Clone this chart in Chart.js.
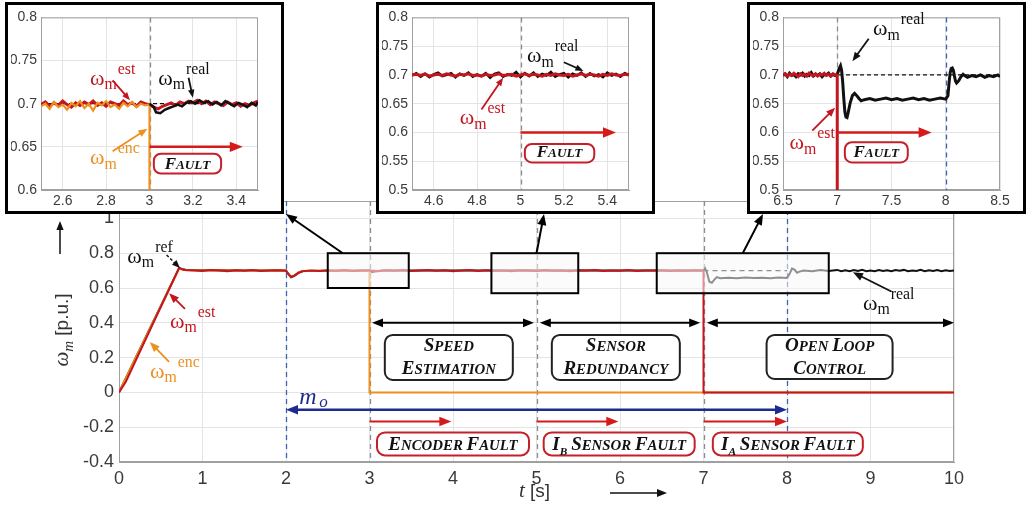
<!DOCTYPE html>
<html>
<head>
<meta charset="utf-8">
<script src="https://cdn.jsdelivr.net/npm/chart.js@4.4.1/dist/chart.umd.min.js"></script>
<style>
  body { margin: 0; background: #fff; }
  #wrap { position: relative; width: 1028px; height: 511px; overflow: hidden; background: #fff; }
  #main { position: absolute; left: 0; top: 0; }
  .inset { position: absolute; top: 2px; width: 279px; height: 212px; box-sizing: border-box; border: 3px solid #000; background: #fff; }
  .inset canvas { display: block; }
</style>
</head>
<body>
<div id="wrap">
  <canvas id="main" width="1028" height="511"></canvas>
  <div class="inset" style="left:5px"><canvas id="in1" width="273" height="206"></canvas></div>
  <div class="inset" style="left:376px"><canvas id="in2" width="273" height="206"></canvas></div>
  <div class="inset" style="left:747px"><canvas id="in3" width="273" height="206"></canvas></div>
</div>
<script>
// ---- main plot: ticks and series ([t, w] pairs) ----
const xTicksMain = [0, 1, 2, 3, 4, 5, 6, 7, 8, 9, 10];
const yTicksMain = [-0.4, -0.2, 0, 0.2, 0.4, 0.6, 0.8, 1];

const mainEst = [[0,0],[0.04,0.03],[0.08,0.06],[0.72,0.716],[0.76,0.706],[0.8,0.703],[0.9,0.701],[1,0.698],[1.1,0.703],[1.2,0.7],[1.3,0.697],[1.4,0.702],[1.5,0.699],[1.6,0.703],[1.7,0.698],[1.8,0.701],[1.9,0.702],[2,0.699],[2.03,0.68],[2.06,0.664],[2.1,0.671],[2.15,0.688],[2.2,0.696],[2.3,0.701],[2.4,0.698],[2.5,0.702],[2.6,0.699],[2.7,0.703],[2.8,0.698],[2.9,0.701],[3,0.7],[3.1,0.697],[3.2,0.702],[3.3,0.699],[3.4,0.703],[3.5,0.698],[3.6,0.701],[3.7,0.704],[3.8,0.699],[3.9,0.702],[4,0.697],[4.1,0.701],[4.2,0.703],[4.3,0.698],[4.4,0.702],[4.5,0.699],[4.6,0.701],[4.7,0.697],[4.8,0.702],[4.9,0.7],[5,0.698],[5.1,0.703],[5.2,0.699],[5.3,0.701],[5.4,0.697],[5.5,0.702],[5.6,0.7],[5.7,0.703],[5.8,0.698],[5.9,0.701],[6,0.699],[6.1,0.703],[6.2,0.698],[6.3,0.701],[6.4,0.7],[6.5,0.702],[6.6,0.698],[6.7,0.701],[6.8,0.699],[6.9,0.702],[7,0.7],[7,0],[10,0]];

const mainReal = [[0,0],[0.72,0.714],[0.8,0.703],[1.5,0.7],[2,0.7],[2.03,0.679],[2.06,0.662],[2.1,0.67],[2.15,0.687],[2.2,0.697],[3,0.7],[3.03,0.692],[3.08,0.696],[3.15,0.7],[5,0.7],[7,0.7],[7.02,0.712],[7.04,0.69],[7.07,0.636],[7.1,0.63],[7.13,0.648],[7.16,0.663],[7.2,0.656],[7.3,0.659],[7.4,0.656],[7.5,0.66],[7.6,0.657],[7.7,0.659],[7.8,0.656],[7.9,0.66],[8,0.658],[8.03,0.68],[8.06,0.712],[8.09,0.706],[8.12,0.688],[8.15,0.694],[8.2,0.701],[8.3,0.697],[8.4,0.703],[8.5,0.698],[8.6,0.704],[8.65,0.696],[8.7,0.702],[8.75,0.697],[8.8,0.703],[8.85,0.698],[8.9,0.704],[8.95,0.696],[9,0.701],[9.05,0.697],[9.1,0.703],[9.15,0.698],[9.2,0.702],[9.25,0.696],[9.3,0.703],[9.35,0.699],[9.4,0.704],[9.45,0.697],[9.5,0.701],[9.55,0.698],[9.6,0.704],[9.65,0.697],[9.7,0.702],[9.75,0.698],[9.8,0.703],[9.85,0.697],[9.9,0.702],[9.95,0.698],[10,0.701]];

const mainEnc = [[0,0],[0.72,0.712],[0.8,0.702],[1.5,0.699],[2,0.7],[2.03,0.68],[2.06,0.665],[2.1,0.672],[2.15,0.689],[2.2,0.697],[2.6,0.7],[3,0.699],[3,0],[10,0]];

const mainRef = [[7,0.7],[8,0.7]];

// ---- inset 1 (encoder fault, t = 2.5..3.5) ----
const in1XTicks = [2.6, 2.8, 3, 3.2, 3.4];
const in1YTicks = [0.6, 0.65, 0.7, 0.75, 0.8];
const in1Est = [[2.5,.699],[2.52,.702],[2.54,.697],[2.56,.701],[2.58,.698],[2.6,.703],[2.62,.699],[2.64,.696],[2.66,.701],[2.68,.698],[2.7,.702],[2.72,.699],[2.74,.703],[2.76,.698],[2.78,.701],[2.8,.697],[2.82,.702],[2.84,.7],[2.86,.698],[2.88,.703],[2.9,.699],[2.92,.701],[2.94,.697],[2.96,.702],[2.98,.7],[3,.699],[3.02,.696],[3.04,.694],[3.06,.697],[3.08,.699],[3.1,.701],[3.12,.698],[3.14,.702],[3.16,.7],[3.18,.703],[3.2,.701],[3.22,.704],[3.24,.7],[3.26,.703],[3.28,.699],[3.3,.702],[3.32,.7],[3.34,.698],[3.36,.702],[3.38,.699],[3.4,.701],[3.42,.697],[3.44,.7],[3.46,.698],[3.48,.701],[3.5,.703]];
const in1Enc = [[2.5,.697],[2.52,.7],[2.54,.694],[2.56,.702],[2.58,.696],[2.6,.699],[2.62,.693],[2.64,.701],[2.66,.697],[2.68,.703],[2.7,.695],[2.72,.7],[2.74,.692],[2.76,.701],[2.78,.698],[2.8,.703],[2.82,.696],[2.84,.699],[2.86,.694],[2.88,.701],[2.9,.697],[2.92,.702],[2.94,.696],[2.96,.7],[2.98,.698],[3,.699],[3,0]];
const in1Real = [[3,.7],[3.02,.696],[3.03,.69],[3.05,.689],[3.07,.693],[3.09,.695],[3.11,.697],[3.13,.699],[3.15,.697],[3.17,.701],[3.19,.703],[3.21,.7],[3.23,.704],[3.25,.701],[3.27,.703],[3.29,.699],[3.31,.702],[3.33,.698],[3.35,.703],[3.37,.7],[3.39,.697],[3.41,.701],[3.43,.699],[3.45,.696],[3.47,.701],[3.49,.698],[3.5,.702]];
const in1Ref = [[2.5,.7],[3.5,.7]];

// ---- inset 2 (I_B sensor fault, t = 4.5..5.5) ----
const in2XTicks = [4.6, 4.8, 5, 5.2, 5.4];
const in2YTicks = [0.5, 0.55, 0.6, 0.65, 0.7, 0.75, 0.8];
const in2Est = [[4.5,.7],[4.52,.701],[4.54,.699],[4.56,.702],[4.58,.698],[4.6,.7],[4.62,.701],[4.64,.699],[4.66,.702],[4.68,.7],[4.7,.698],[4.72,.701],[4.74,.7],[4.76,.702],[4.78,.699],[4.8,.7],[4.82,.698],[4.84,.701],[4.86,.699],[4.88,.7],[4.9,.702],[4.92,.699],[4.94,.7],[4.96,.701],[4.98,.698],[5,.7],[5.02,.702],[5.04,.699],[5.06,.701],[5.08,.7],[5.1,.698],[5.12,.701],[5.14,.699],[5.16,.702],[5.18,.7],[5.2,.699],[5.22,.701],[5.24,.698],[5.26,.7],[5.28,.702],[5.3,.699],[5.32,.701],[5.34,.7],[5.36,.698],[5.38,.701],[5.4,.699],[5.42,.702],[5.44,.7],[5.46,.699],[5.48,.701],[5.5,.7]];
const in2Real = [[4.5,.699],[4.52,.703],[4.54,.697],[4.56,.702],[4.58,.696],[4.6,.701],[4.62,.704],[4.64,.698],[4.66,.7],[4.68,.703],[4.7,.696],[4.72,.702],[4.74,.699],[4.76,.704],[4.78,.697],[4.8,.701],[4.82,.698],[4.84,.703],[4.86,.695],[4.88,.702],[4.9,.704],[4.92,.697],[4.94,.701],[4.96,.699],[4.98,.705],[5,.696],[5.02,.703],[5.04,.698],[5.06,.704],[5.08,.697],[5.1,.702],[5.12,.699],[5.14,.705],[5.16,.697],[5.18,.701],[5.2,.703],[5.22,.696],[5.24,.702],[5.26,.699],[5.28,.704],[5.3,.697],[5.32,.703],[5.34,.698],[5.36,.701],[5.38,.696],[5.4,.704],[5.42,.699],[5.44,.702],[5.46,.697],[5.48,.703],[5.5,.7]];

// ---- inset 3 (I_A sensor fault, t = 6.5..8.5) ----
const in3XTicks = [6.5, 7, 7.5, 8, 8.5];
const in3YTicks = [0.5, 0.55, 0.6, 0.65, 0.7, 0.75, 0.8];
const in3Est = [[6.5,.7],[6.52,.702],[6.54,.698],[6.56,.701],[6.58,.699],[6.6,.703],[6.62,.7],[6.64,.697],[6.66,.702],[6.68,.699],[6.7,.701],[6.72,.698],[6.74,.703],[6.76,.7],[6.78,.699],[6.8,.702],[6.82,.698],[6.84,.701],[6.86,.7],[6.88,.703],[6.9,.699],[6.92,.701],[6.94,.698],[6.96,.702],[6.98,.7],[7,.7],[7,0]];
const in3Real = [[6.5,.699],[6.52,.702],[6.54,.697],[6.56,.703],[6.58,.699],[6.6,.701],[6.62,.697],[6.64,.702],[6.66,.7],[6.68,.703],[6.7,.698],[6.72,.701],[6.74,.699],[6.76,.704],[6.78,.698],[6.8,.701],[6.82,.699],[6.84,.702],[6.86,.697],[6.88,.701],[6.9,.7],[6.92,.703],[6.94,.698],[6.96,.701],[6.98,.699],[7,.701],[7.02,.712],[7.03,.716],[7.04,.708],[7.05,.688],[7.06,.66],[7.07,.636],[7.08,.627],[7.09,.626],[7.1,.634],[7.12,.652],[7.14,.664],[7.16,.668],[7.18,.664],[7.2,.659],[7.22,.655],[7.25,.657],[7.3,.659],[7.35,.656],[7.4,.658],[7.45,.66],[7.5,.657],[7.55,.659],[7.6,.656],[7.65,.658],[7.7,.66],[7.75,.657],[7.8,.659],[7.85,.656],[7.9,.658],[7.95,.66],[8,.658],[8.02,.664],[8.03,.685],[8.04,.703],[8.05,.711],[8.06,.712],[8.07,.708],[8.08,.698],[8.09,.689],[8.1,.686],[8.12,.69],[8.14,.697],[8.16,.701],[8.18,.698],[8.2,.696],[8.24,.699],[8.28,.697],[8.32,.7],[8.36,.696],[8.4,.699],[8.44,.697],[8.48,.7],[8.5,.697]];
const in3Ref = [[6.5,.7],[8.5,.7]];

// ---- styling ----
const RED = '#c3161f';
const ORANGE = '#ec901f';
const BLACK = '#111111';
const GRAY = '#8c8c8c';
const BLUE = '#3b63b3';
const NAVY = '#1d2b8f';
const SERIF = '"Liberation Serif", "DejaVu Serif", serif';
const SANS = '"Liberation Sans", Arial, sans-serif';

const pts = arr => arr.map(p => ({ x: p[0], y: p[1] }));

function series(data, color, width, order, dash) {
  return {
    data: pts(data), borderColor: color, borderWidth: width, borderDash: dash || [],
    pointRadius: 0, tension: 0, fill: false, order: order
  };
}

function head(ctx, x, y, ang, len, color) {
  const w = len * 0.4;
  ctx.fillStyle = color;
  ctx.beginPath();
  ctx.moveTo(x, y);
  ctx.lineTo(x - len * Math.cos(ang) + w * Math.sin(ang), y - len * Math.sin(ang) - w * Math.cos(ang));
  ctx.lineTo(x - len * Math.cos(ang) - w * Math.sin(ang), y - len * Math.sin(ang) + w * Math.cos(ang));
  ctx.closePath();
  ctx.fill();
}

function arrow(ctx, x1, y1, x2, y2, color, lw, len, both, dash) {
  const ang = Math.atan2(y2 - y1, x2 - x1);
  ctx.save();
  ctx.strokeStyle = color;
  ctx.lineWidth = lw;
  ctx.setLineDash(dash || []);
  ctx.beginPath();
  ctx.moveTo(x1 + (both ? Math.cos(ang) * len * 0.6 : 0), y1 + (both ? Math.sin(ang) * len * 0.6 : 0));
  ctx.lineTo(x2 - Math.cos(ang) * len * 0.6, y2 - Math.sin(ang) * len * 0.6);
  ctx.stroke();
  ctx.setLineDash([]);
  head(ctx, x2, y2, ang, len, color);
  if (both) head(ctx, x1, y1, ang + Math.PI, len, color);
  ctx.restore();
}

function roundBox(ctx, x, y, w, h, r, stroke, lw) {
  ctx.save();
  ctx.beginPath();
  ctx.moveTo(x + r, y);
  ctx.arcTo(x + w, y, x + w, y + h, r);
  ctx.arcTo(x + w, y + h, x, y + h, r);
  ctx.arcTo(x, y + h, x, y, r);
  ctx.arcTo(x, y, x + w, y, r);
  ctx.closePath();
  ctx.fillStyle = '#fff';
  ctx.fill();
  ctx.strokeStyle = stroke;
  ctx.lineWidth = lw;
  ctx.stroke();
  ctx.restore();
}

// small caps: first letter of each word full size, the rest smaller capitals; "I_B" gives a subscript
function smallCaps(ctx, text, cx, y, size, color) {
  const runs = [];
  text.split(' ').forEach((word, i) => {
    if (i) runs.push({ s: ' ', size: size * 0.8, dy: 0 });
    const [main, sub] = word.split('_');
    runs.push({ s: main[0], size: size, dy: 0 });
    if (main.length > 1) runs.push({ s: main.slice(1).toUpperCase(), size: size * 0.78, dy: 0 });
    if (sub) runs.push({ s: sub, size: size * 0.6, dy: size * 0.22 });
  });
  ctx.save();
  let w = 0;
  runs.forEach(r => {
    ctx.font = `italic bold ${r.size}px ${SERIF}`;
    r.w = ctx.measureText(r.s).width;
    w += r.w;
  });
  let x = cx - w / 2;
  ctx.fillStyle = color;
  ctx.textAlign = 'left';
  ctx.textBaseline = 'alphabetic';
  runs.forEach(r => {
    ctx.font = `italic bold ${r.size}px ${SERIF}`;
    ctx.fillText(r.s, x, y + r.dy);
    x += r.w;
  });
  ctx.restore();
}

function labelBox(ctx, cx, top, w, h, lines, stroke, size) {
  roundBox(ctx, cx - w / 2, top, w, h, 8, stroke, 2);
  if (lines.length === 1) {
    smallCaps(ctx, lines[0], cx, top + h - 5, size, BLACK);
  } else {
    smallCaps(ctx, lines[0], cx, top + 16, size, BLACK);
    smallCaps(ctx, lines[1], cx, top + 39, size, BLACK);
  }
}

function omega(ctx, x, y, sup, color, size) {
  size = size || 22;
  ctx.save();
  ctx.fillStyle = color;
  ctx.textAlign = 'left';
  ctx.textBaseline = 'alphabetic';
  ctx.font = `${size}px ${SERIF}`;
  ctx.fillText('ω', x, y);
  const w1 = ctx.measureText('ω').width;
  ctx.font = `${size * 0.72}px ${SERIF}`;
  ctx.fillText('m', x + w1, y + size * 0.2);
  const w2 = ctx.measureText('m').width;
  ctx.fillText(sup, x + w1 + w2 + 1, y - size * 0.5);
  ctx.restore();
}

function vDash(ctx, area, px, color) {
  ctx.save();
  ctx.strokeStyle = color;
  ctx.lineWidth = 1.3;
  ctx.setLineDash([5, 4]);
  ctx.beginPath();
  ctx.moveTo(Math.round(px) + 0.5, area.top);
  ctx.lineTo(Math.round(px) + 0.5, area.bottom);
  ctx.stroke();
  ctx.restore();
}

function frame(ctx, a) {
  ctx.save();
  ctx.strokeStyle = '#a0a0a0';
  ctx.lineWidth = 1;
  ctx.strokeRect(a.left + 0.5, a.top + 0.5, a.right - a.left - 1, a.bottom - a.top - 1);
  ctx.restore();
}

const fmt = v => String(+v.toFixed(2));

function axis(min, max, list, fontSize, fitKey, fitVal, pad) {
  return {
    type: 'linear', min: min, max: max,
    afterBuildTicks: s => { s.ticks = list.map(v => ({ value: v })); },
    afterFit: s => { s[fitKey] = fitVal; },
    ticks: { autoSkip: false, maxRotation: 0, padding: pad, color: '#3a3a3a',
             font: { family: SANS, size: fontSize }, callback: fmt },
    grid: { color: '#e4e4e4', drawTicks: false },
    border: { color: '#a0a0a0' }
  };
}

// ---- main chart ----
const mainAnn = {
  id: 'mainAnn',
  beforeDatasetsDraw(chart) {
    const { ctx, chartArea: a, scales: { x } } = chart;
    frame(ctx, a);
    [[2, BLUE], [3, GRAY], [5, GRAY], [7, GRAY], [8, BLUE]].forEach(([t, c]) => vDash(ctx, a, x.getPixelForValue(t), c));
  },
  afterDatasetsDraw(chart) {
    const { ctx, scales: { x, y } } = chart;
    const X = v => x.getPixelForValue(v);
    const Y = v => y.getPixelForValue(v);

    // zoom boxes
    [[2.5, 3.47, 0.8, 0.6], [4.46, 5.5, 0.8, 0.57], [6.44, 8.5, 0.8, 0.57]].forEach(b => {
      ctx.save();
      ctx.fillStyle = 'rgba(248,248,248,0.55)';
      ctx.fillRect(X(b[0]), Y(b[2]), X(b[1]) - X(b[0]), Y(b[3]) - Y(b[2]));
      ctx.strokeStyle = '#000';
      ctx.lineWidth = 2;
      ctx.strokeRect(X(b[0]), Y(b[2]), X(b[1]) - X(b[0]), Y(b[3]) - Y(b[2]));
      ctx.restore();
    });
    // pointers from boxes to insets
    arrow(ctx, X(2.68), Y(0.8), 286, 214, '#000', 2, 11);
    arrow(ctx, X(5.0), Y(0.8), 544, 214, '#000', 2, 11);
    arrow(ctx, X(7.47), Y(0.8), 763, 214, '#000', 2, 11);

    // mode spans
    arrow(ctx, X(3.03), Y(0.4), X(4.97), Y(0.4), '#000', 2, 11, true);
    arrow(ctx, X(5.04), Y(0.4), X(6.96), Y(0.4), '#000', 2, 11, true);
    arrow(ctx, X(7.04), Y(0.4), X(10), Y(0.4), '#000', 2, 11, true);
    labelBox(ctx, X(3.95), Y(0.33), 128, 45, ['Speed', 'Estimation'], '#222', 19);
    labelBox(ctx, X(5.95), Y(0.33), 128, 45, ['Sensor', 'Redundancy'], '#222', 19);
    labelBox(ctx, X(8.51), Y(0.33), 126, 44, ['Open Loop', 'Control'], '#222', 19);

    // m_o interval
    arrow(ctx, X(2), Y(-0.1), X(8), Y(-0.1), NAVY, 2.5, 12, true);
    ctx.save();
    ctx.fillStyle = NAVY;
    ctx.font = `italic 24px ${SERIF}`;
    ctx.fillText('m', X(2.16), Y(-0.068));
    ctx.font = `italic 17px ${SERIF}`;
    ctx.fillText('o', X(2.16) + 20, Y(-0.085));
    ctx.restore();

    // fault arrows and labels
    [[3, 3.98], [5, 5.98], [7, 8]].forEach(f => arrow(ctx, X(f[0]), Y(-0.167), X(f[1]), Y(-0.167), '#d51a1a', 2, 12));
    labelBox(ctx, X(4.0), Y(-0.23), 152, 23, ['Encoder Fault'], '#c3202a', 19);
    labelBox(ctx, X(5.99), Y(-0.23), 151, 23, ['I_B Sensor Fault'], '#c3202a', 19);
    labelBox(ctx, X(8.01), Y(-0.23), 150, 23, ['I_A Sensor Fault'], '#c3202a', 19);

    // curve labels
    omega(ctx, X(0.1), Y(0.744), 'ref', BLACK);
    arrow(ctx, X(0.57), Y(0.79), X(0.73), Y(0.715), BLACK, 1.5, 8, false, [3, 2]);
    omega(ctx, X(0.61), Y(0.37), 'est', RED);
    arrow(ctx, X(0.79), Y(0.48), X(0.6), Y(0.57), RED, 1.8, 10);
    omega(ctx, X(0.37), Y(0.083), 'enc', ORANGE);
    arrow(ctx, X(0.6), Y(0.175), X(0.37), Y(0.29), ORANGE, 1.8, 10);
    omega(ctx, X(8.91), Y(0.474), 'real', BLACK);
    arrow(ctx, X(9.25), Y(0.58), X(8.79), Y(0.69), BLACK, 1.8, 10);
  },
  afterDraw(chart) {
    const { ctx } = chart;
    ctx.save();
    // y title, rotated
    ctx.translate(62, 330);
    ctx.rotate(-Math.PI / 2);
    ctx.fillStyle = '#333';
    ctx.textBaseline = 'alphabetic';
    ctx.font = `italic 21px ${SERIF}`;
    const wo = ctx.measureText('ω').width;
    ctx.font = `italic 15px ${SERIF}`;
    const wm = ctx.measureText('m').width;
    ctx.font = `19px ${SANS}`;
    const wp = ctx.measureText(' [p.u.]').width;
    let sx = -(wo + wm + wp) / 2;
    ctx.font = `italic 21px ${SERIF}`;
    ctx.fillText('ω', sx, 6);
    ctx.font = `italic 15px ${SERIF}`;
    ctx.fillText('m', sx + wo, 11);
    ctx.font = `19px ${SANS}`;
    ctx.fillText(' [p.u.]', sx + wo + wm, 6);
    ctx.restore();
    arrow(ctx, 60, 254, 60, 221, '#111', 1.5, 9);

    // x title
    ctx.save();
    ctx.fillStyle = '#333';
    ctx.font = `italic 21px ${SERIF}`;
    ctx.fillText('t', 519, 497);
    ctx.font = `19px ${SANS}`;
    ctx.fillText('[s]', 530, 497);
    ctx.restore();
    arrow(ctx, 610, 493, 667, 493, '#111', 1.5, 10);
  }
};

new Chart(document.getElementById('main'), {
  type: 'line',
  data: {
    datasets: [
      series(mainEst, RED, 2, 0),
      series(mainEnc, ORANGE, 2, 1),
      series(mainReal, BLACK, 2, 2),
      series(mainRef, BLACK, 1.3, 3, [5, 4])
    ]
  },
  options: {
    responsive: false, animation: false, devicePixelRatio: 1,
    layout: { padding: { left: 69, right: 74, top: 201, bottom: 19 } },
    plugins: { legend: { display: false }, tooltip: { enabled: false } },
    scales: {
      x: axis(0, 10, xTicksMain, 18, 'height', 30, 6),
      y: axis(-0.4, 1.1, yTicksMain, 18, 'width', 50, 5)
    }
  },
  plugins: [mainAnn]
});

// ---- insets ----
function inset(id, xr, yr, xt, yt, datasets, before, after) {
  new Chart(document.getElementById(id), {
    type: 'line',
    data: { datasets: datasets },
    options: {
      responsive: false, animation: false, devicePixelRatio: 1,
      layout: { padding: { left: 3, right: 23, top: 12, bottom: 1 } },
      plugins: { legend: { display: false }, tooltip: { enabled: false } },
      scales: {
        x: axis(xr[0], xr[1], xt, 14, 'height', 20, 3),
        y: axis(yr[0], yr[1], yt, 14, 'width', 30, 4)
      }
    },
    plugins: [{
      id: 'ann_' + id,
      beforeDatasetsDraw(chart) {
        const { ctx, chartArea: a, scales: { x } } = chart;
        frame(ctx, a);
        before.forEach(([t, c]) => vDash(ctx, a, x.getPixelForValue(t), c));
      },
      afterDatasetsDraw(chart) {
        const { ctx, scales: { x, y } } = chart;
        after(ctx, v => x.getPixelForValue(v), v => y.getPixelForValue(v));
      }
    }]
  });
}

function faultTag(ctx, X, Y, x0, x1, y0, y1) {
  roundBox(ctx, X(x0), Y(y0), X(x1) - X(x0), Y(y1) - Y(y0), 7, '#c3202a', 2);
  smallCaps(ctx, 'Fault', (X(x0) + X(x1)) / 2, Y(y1) - 5, 17, BLACK);
}

inset('in1', [2.5, 3.5], [0.6, 0.8], in1XTicks, in1YTicks, [
  series(in1Real, BLACK, 2.5, 0),
  series(in1Enc, ORANGE, 2.2, 1),
  series(in1Est, RED, 3, 2),
  series(in1Ref, BLACK, 1.2, 3, [4, 3])
], [[3, GRAY]], (ctx, X, Y) => {
  arrow(ctx, X(3.0), Y(0.65), X(3.43), Y(0.65), '#d51a1a', 2.5, 13);
  faultTag(ctx, X, Y, 3.02, 3.33, 0.642, 0.619);
  omega(ctx, X(2.726), Y(0.7216), 'est', RED);
  arrow(ctx, X(2.83), Y(0.727), X(2.91), Y(0.704), RED, 1.8, 8);
  omega(ctx, X(3.04), Y(0.722), 'real', BLACK);
  arrow(ctx, X(3.18), Y(0.73), X(3.2), Y(0.707), BLACK, 1.8, 8);
  omega(ctx, X(2.726), Y(0.63), 'enc', ORANGE);
  arrow(ctx, X(2.83), Y(0.645), X(2.99), Y(0.671), ORANGE, 1.8, 9);
});

inset('in2', [4.5, 5.5], [0.5, 0.8], in2XTicks, in2YTicks, [
  series(in2Est, RED, 3, 0),
  series(in2Real, BLACK, 2.5, 1)
], [[5, GRAY]], (ctx, X, Y) => {
  arrow(ctx, X(5.0), Y(0.6), X(5.44), Y(0.6), '#d51a1a', 2.5, 13);
  faultTag(ctx, X, Y, 5.02, 5.34, 0.58, 0.548);
  omega(ctx, X(5.03), Y(0.722), 'real', BLACK);
  arrow(ctx, X(5.2), Y(0.722), X(5.29), Y(0.707), BLACK, 1.8, 8);
  omega(ctx, X(4.72), Y(0.614), 'est', RED);
  arrow(ctx, X(4.82), Y(0.64), X(4.92), Y(0.695), RED, 1.8, 8);
});

inset('in3', [6.5, 8.5], [0.5, 0.8], in3XTicks, in3YTicks, [
  series(in3Est, RED, 3, 0),
  series(in3Real, BLACK, 3, 1),
  series(in3Ref, BLACK, 1.2, 2, [4, 3])
], [[7, GRAY], [8, BLUE]], (ctx, X, Y) => {
  arrow(ctx, X(7.0), Y(0.6), X(7.87), Y(0.6), '#d51a1a', 2.5, 13);
  faultTag(ctx, X, Y, 7.07, 7.65, 0.583, 0.548);
  omega(ctx, X(7.33), Y(0.769), 'real', BLACK);
  arrow(ctx, X(7.29), Y(0.763), X(7.14), Y(0.724), BLACK, 1.8, 9);
  omega(ctx, X(6.56), Y(0.571), 'est', RED);
  arrow(ctx, X(6.77), Y(0.603), X(6.98), Y(0.643), RED, 1.8, 9);
});
</script>
</body>
</html>
